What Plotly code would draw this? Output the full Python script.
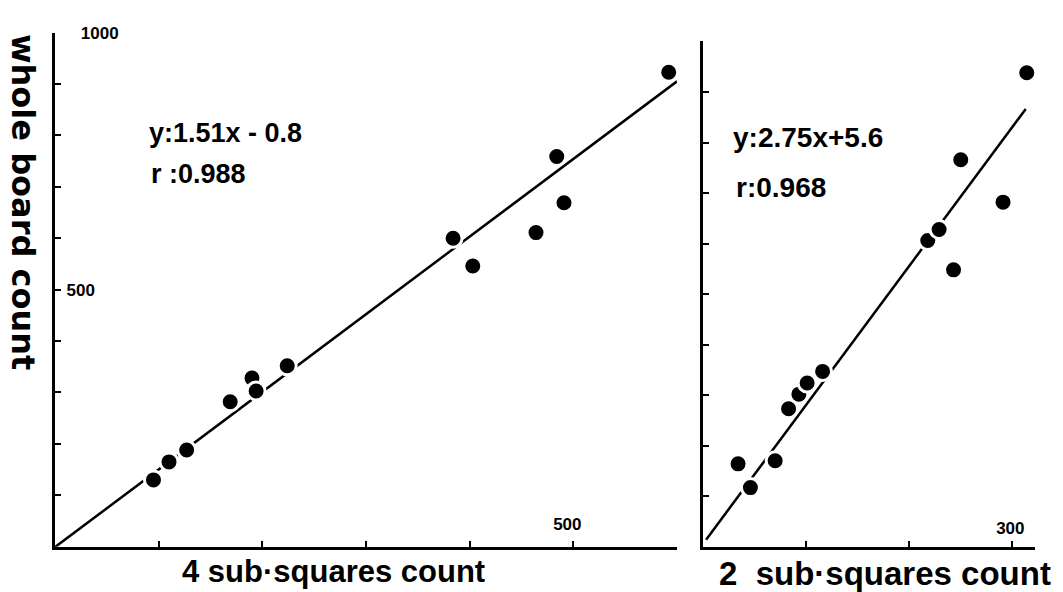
import plotly.graph_objects as go

# ---- data ----
left_x = [95, 110, 127, 169, 190, 194, 224, 384, 403, 464, 484, 491, 592]
left_y = [130, 165, 188, 282, 328, 303, 352, 600, 546, 611, 759, 669, 923]
right_x = [34, 46, 70, 83, 93, 101, 116, 218, 229, 243, 250, 291, 314]
right_y = [164, 117, 170, 273, 302, 324, 347, 606, 628, 548, 766, 682, 938]

left_fit = (1.51, -0.8)      # slope, intercept
right_fit = (2.75, 5.6)
left_fit_x = [0, 600]
right_fit_x = [3, 313]

left_eq = "y:1.51x - 0.8"
left_r = "r :0.988"
right_eq = "y:2.75x+5.6"
right_r = "r:0.968"

y_tickvals = [0, 100, 200, 300, 400, 500, 600, 700, 800, 900, 1000]
left_y_ticktext = ["", "", "", "", "", "500", "", "", "", "", "\u00a0\u00a0\u00a01000"]
right_y_ticktext = [""] * 11
left_x_tickvals = [0, 100, 200, 300, 400, 500]
left_x_ticktext = ["", "", "", "", "", "500"]
right_x_tickvals = [0, 100, 200, 300]
right_x_ticktext = ["", "", "", "300"]

y_title = "whole board count"
left_x_title = "4 sub·squares count"
right_x_title = "2  sub·squares count"

FONT = "Liberation Sans, Arial, sans-serif"
YFONT = "DejaVu Sans, Liberation Sans, sans-serif"
W, H = 1063, 592


def px(x):
    return x / W


def py(y):
    return 1 - y / H


fig = go.Figure()


def fit_line(fit, xs):
    return [fit[0] * x + fit[1] for x in xs]


fig.add_trace(go.Scatter(x=left_fit_x, y=fit_line(left_fit, left_fit_x), mode="lines",
                         line=dict(color="black", width=2.5), xaxis="x", yaxis="y",
                         showlegend=False, hoverinfo="skip"))
fig.add_trace(go.Scatter(x=left_x, y=left_y, mode="markers",
                         marker=dict(color="black", size=18, line=dict(color="white", width=3)),
                         xaxis="x", yaxis="y", showlegend=False))
fig.add_trace(go.Scatter(x=right_fit_x, y=fit_line(right_fit, right_fit_x), mode="lines",
                         line=dict(color="black", width=2.5), xaxis="x2", yaxis="y2",
                         showlegend=False, hoverinfo="skip"))
fig.add_trace(go.Scatter(x=right_x, y=right_y, mode="markers",
                         marker=dict(color="black", size=18, line=dict(color="white", width=3)),
                         xaxis="x2", yaxis="y2", showlegend=False))

tickfont = dict(family=FONT, size=17, color="black", weight="bold")
common = dict(showgrid=False, zeroline=False, showline=True, linecolor="black", linewidth=3,
              ticks="inside", tickcolor="black", tickwidth=2, ticklen=6,
              ticklabelposition="inside", ticklabeloverflow="allow",
              tickfont=tickfont, tickmode="array")

fig.update_layout(
    width=W, height=H,
    margin=dict(l=0, r=0, t=0, b=0),
    paper_bgcolor="white", plot_bgcolor="white",
    xaxis=dict(domain=[px(55), px(677)], range=[0, 600], anchor="y",
               tickvals=left_x_tickvals, ticktext=left_x_ticktext,
               ticklabelstandoff=8, ticklabelshift=-6, **common),
    yaxis=dict(domain=[py(546), py(24)], range=[0, 1000], anchor="x",
               tickvals=y_tickvals, ticktext=left_y_ticktext,
               ticklabelstandoff=6, **common),
    xaxis2=dict(domain=[px(703), px(1035)], range=[0, 322], anchor="y2",
                tickvals=right_x_tickvals, ticktext=right_x_ticktext,
                ticklabelstandoff=4, ticklabelshift=-2, **common),
    yaxis2=dict(domain=[py(546), py(33)], range=[0, 1000], anchor="x2",
                tickvals=y_tickvals, ticktext=right_y_ticktext, **common),
)


def ann(text, x, y, size, xanchor="left", angle=0, family=FONT):
    fig.add_annotation(text=text, x=px(x), y=py(y), xref="paper", yref="paper",
                       xanchor=xanchor, yanchor="middle", showarrow=False, textangle=angle,
                       borderpad=0,
                       font=dict(family=family, size=size, color="black", weight="bold"))


ann(left_eq, 148, 126, 27)
ann(left_r, 150, 168, 27)
ann(right_eq, 732, 130, 28)
ann(right_r, 735, 181, 28)
ann(y_title, 23, 196, 32, xanchor="center", angle=90, family=YFONT)
ann(left_x_title, 333, 571, 31, xanchor="center")
ann(right_x_title, 885, 573, 33, xanchor="center")

# page body has a default 8px margin; remove it so the figure fills the window
fig.write_html("out.html", config={"displayModeBar": False},
               post_script="document.body.style.margin='0';")
